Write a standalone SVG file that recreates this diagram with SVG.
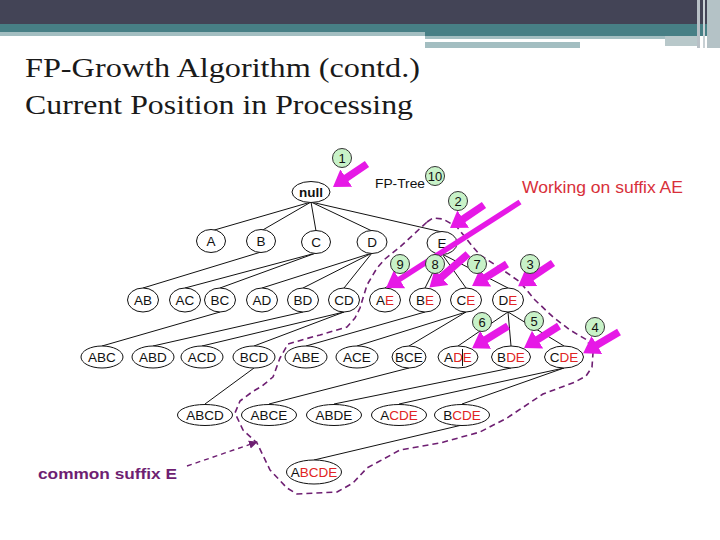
<svg xmlns="http://www.w3.org/2000/svg" width="720" height="540" viewBox="0 0 720 540">
<style>
.n ellipse{fill:#fff;stroke:#111;stroke-width:1}
.n text{font-family:"Liberation Sans",Arial,sans-serif;font-size:13.5px;fill:#111;text-anchor:middle}
.r{fill:#e02424}
.e line{stroke:#111;stroke-width:1}
.num circle{fill:#c8f2c8;stroke:#333;stroke-width:1}
.num text{font-family:"Liberation Sans",Arial,sans-serif;font-size:13px;fill:#111;text-anchor:middle}
.ma{stroke:#e619e6;stroke-width:7.5;fill:none;marker-end:url(#mh)}
</style>
<defs>
<marker id="mh" markerUnits="userSpaceOnUse" markerWidth="22" markerHeight="24" viewBox="0 -12 22 24" refX="2" refY="0" orient="auto">
<path d="M0,-10.5 L16,0 L0,10.5 Z" fill="#e619e6"/>
</marker>
<marker id="ph" markerUnits="userSpaceOnUse" markerWidth="10" markerHeight="10" viewBox="0 -5 10 10" refX="8" refY="0" orient="auto">
<path d="M0,-4 L9,0 L0,4 Z" fill="#6e1f72"/>
</marker>
</defs>
<rect width="720" height="540" fill="#fff"/>
<g id="header">
<rect x="0" y="0" width="720" height="25" fill="#434456"/>
<rect x="0" y="24" width="720" height="9" fill="#477f85"/>
<rect x="0" y="32" width="425" height="4" fill="#a3bec1"/>
<rect x="425" y="32" width="295" height="4" fill="#477f85"/>
<rect x="425" y="36" width="240" height="3" fill="#a3bec1"/>
<rect x="425" y="42" width="155" height="6" fill="#a3bec1"/>
<rect x="665" y="36" width="32" height="10" fill="#b8c8ca"/>
<rect x="697" y="0" width="3" height="48" fill="#b8c0c6"/>
<rect x="703" y="0" width="2" height="48" fill="#c8d0d4"/>
<rect x="707" y="0" width="13" height="48" fill="#b4c2c6"/>
</g>
<g id="title" font-family="'Liberation Serif','Times New Roman',serif" font-size="27" fill="#1a1a1a">
<text x="25" y="77" textLength="395" lengthAdjust="spacingAndGlyphs">FP-Growth Algorithm (contd.)</text>
<text x="25" y="114" textLength="388" lengthAdjust="spacingAndGlyphs">Current Position in Processing</text>
</g>
<g id="boundary">
<polyline points="427,222 433,218 443,219 457,227 473,247 480,255 500,268 520,282 535,300 553,317 570,330 587,340 593,353 592,367 586,376 575,382 543,394 507,418 480,432 440,443 400,450 378,462 367,468 353,483 337,492 297,494 287,488 270,470 257,443 243,430 235,413 240,401 252,392 262,386 273,377 280,358 288,344 305,339 320,335 347,327 355,318 360,308 363,298 367,285 377,268 385,259 400,247 427,222" fill="none" stroke="#6e1f72" stroke-width="1.6" stroke-dasharray="6,4" stroke-linejoin="round"/>
</g>
<g id="connectors" class="e">
<line x1="311" y1="202" x2="211" y2="231"/>
<line x1="311" y1="202" x2="261" y2="231"/>
<line x1="311" y1="202" x2="316" y2="231"/>
<line x1="311" y1="202" x2="372" y2="231"/>
<line x1="311" y1="202" x2="442" y2="232"/>
<line x1="261" y1="252" x2="143" y2="288"/>
<line x1="316" y1="253" x2="185" y2="288"/>
<line x1="316" y1="253" x2="220" y2="288"/>
<line x1="372" y1="253" x2="262" y2="288"/>
<line x1="372" y1="253" x2="303" y2="288"/>
<line x1="372" y1="253" x2="344" y2="288"/>
<line x1="442" y1="254" x2="385" y2="288"/>
<line x1="442" y1="254" x2="425" y2="288"/>
<line x1="442" y1="254" x2="466" y2="288"/>
<line x1="442" y1="254" x2="508" y2="288"/>
<line x1="220" y1="312" x2="102" y2="346"/>
<line x1="303" y1="312" x2="153" y2="346"/>
<line x1="344" y1="312" x2="202" y2="346"/>
<line x1="344" y1="312" x2="254" y2="346"/>
<line x1="425" y1="312" x2="306" y2="346"/>
<line x1="466" y1="312" x2="357" y2="346"/>
<line x1="466" y1="312" x2="409" y2="346"/>
<line x1="508" y1="312" x2="458" y2="346"/>
<line x1="508" y1="312" x2="511" y2="346"/>
<line x1="508" y1="312" x2="564" y2="346"/>
<line x1="254" y1="368" x2="205" y2="404"/>
<line x1="409" y1="368" x2="269" y2="404"/>
<line x1="511" y1="368" x2="334" y2="404"/>
<line x1="564" y1="368" x2="399" y2="404"/>
<line x1="564" y1="368" x2="462" y2="404"/>
<line x1="462" y1="425" x2="314" y2="460"/>
</g>
<g id="nodes" class="n">
<g id="n-null"><ellipse cx="311" cy="192" rx="19" ry="10.5"/><text x="311" y="196.5" font-weight="bold">null</text></g>
<g id="n-A"><ellipse cx="211" cy="241" rx="14.5" ry="11.5"/><text x="211" y="246">A</text></g>
<g id="n-B"><ellipse cx="261" cy="241" rx="14.5" ry="11.5"/><text x="261" y="246">B</text></g>
<g id="n-C"><ellipse cx="316" cy="242" rx="14.5" ry="11.5"/><text x="316" y="247">C</text></g>
<g id="n-D"><ellipse cx="372" cy="242" rx="15" ry="11.5"/><text x="372" y="247">D</text></g>
<g id="n-E"><ellipse cx="442" cy="243" rx="15" ry="11.5"/><text x="442" y="248">E</text></g>
<g id="n-AB"><ellipse cx="143" cy="300" rx="15.5" ry="12"/><text x="143" y="305">AB</text></g>
<g id="n-AC"><ellipse cx="185" cy="300" rx="15.5" ry="12"/><text x="185" y="305">AC</text></g>
<g id="n-BC"><ellipse cx="220" cy="300" rx="15.5" ry="12"/><text x="220" y="305">BC</text></g>
<g id="n-AD"><ellipse cx="262" cy="300" rx="15.5" ry="12"/><text x="262" y="305">AD</text></g>
<g id="n-BD"><ellipse cx="303" cy="300" rx="15.5" ry="12"/><text x="303" y="305">BD</text></g>
<g id="n-CD"><ellipse cx="344" cy="300" rx="15.5" ry="12"/><text x="344" y="305">CD</text></g>
<g id="n-AE"><ellipse cx="385" cy="300" rx="15.5" ry="12"/><text x="385" y="305">A<tspan class="r">E</tspan></text></g>
<g id="n-BE"><ellipse cx="425" cy="300" rx="15.5" ry="12"/><text x="425" y="305">B<tspan class="r">E</tspan></text></g>
<g id="n-CE"><ellipse cx="466" cy="300" rx="15.5" ry="12"/><text x="466" y="305">C<tspan class="r">E</tspan></text></g>
<g id="n-DE"><ellipse cx="508" cy="300" rx="15.5" ry="12"/><text x="508" y="305">D<tspan class="r">E</tspan></text></g>
<g id="n-ABC"><ellipse cx="102" cy="357" rx="21" ry="11"/><text x="102" y="362">ABC</text></g>
<g id="n-ABD"><ellipse cx="153" cy="357" rx="21" ry="11"/><text x="153" y="362">ABD</text></g>
<g id="n-ACD"><ellipse cx="202" cy="357" rx="21" ry="11"/><text x="202" y="362">ACD</text></g>
<g id="n-BCD"><ellipse cx="254" cy="357" rx="21" ry="11"/><text x="254" y="362">BCD</text></g>
<g id="n-ABE"><ellipse cx="306" cy="357" rx="21" ry="11"/><text x="306" y="362">ABE</text></g>
<g id="n-ACE"><ellipse cx="357" cy="357" rx="21" ry="11"/><text x="357" y="362">ACE</text></g>
<g id="n-BCE"><ellipse cx="409" cy="357" rx="17" ry="11"/><text x="409" y="362">BCE</text></g>
<g id="n-ADE"><ellipse cx="458" cy="357" rx="20" ry="11"/><text x="458" y="362">A<tspan class="r">DE</tspan></text><line x1="462.5" y1="349" x2="462.5" y2="366" stroke="#111" stroke-width="1"/></g>
<g id="n-BDE"><ellipse cx="511" cy="357" rx="19.5" ry="11"/><text x="511" y="362">B<tspan class="r">DE</tspan></text></g>
<g id="n-CDE"><ellipse cx="564" cy="357" rx="19.5" ry="11"/><text x="564" y="362">C<tspan class="r">DE</tspan></text></g>
<g id="n-ABCD"><ellipse cx="205" cy="415" rx="27.5" ry="10.5"/><text x="205" y="420">ABCD</text></g>
<g id="n-ABCE"><ellipse cx="269" cy="415" rx="27.5" ry="10.5"/><text x="269" y="420">ABCE</text></g>
<g id="n-ABDE"><ellipse cx="334" cy="415" rx="27.5" ry="10.5"/><text x="334" y="420">ABDE</text></g>
<g id="n-ACDE"><ellipse cx="399" cy="415" rx="27.5" ry="10.5"/><text x="399" y="420">A<tspan class="r">CDE</tspan></text></g>
<g id="n-BCDE"><ellipse cx="462" cy="415" rx="27.5" ry="10.5"/><text x="462" y="420">B<tspan class="r">CDE</tspan></text></g>
<g id="n-ABCDE"><ellipse cx="314" cy="472" rx="27.5" ry="12"/><text x="314" y="477">A<tspan class="r">BCDE</tspan></text></g>
</g>
<g id="labels">
<text x="375" y="188" font-family="'Liberation Sans',Arial,sans-serif" font-size="13" fill="#111" textLength="50" lengthAdjust="spacingAndGlyphs">FP-Tree</text>
<text x="522" y="193" font-family="'Liberation Sans',Arial,sans-serif" font-size="16" fill="#d8303a" textLength="161" lengthAdjust="spacingAndGlyphs">Working on suffix AE</text>
<text x="38" y="479" font-family="'Liberation Sans',Arial,sans-serif" font-size="15" font-weight="bold" fill="#6e1f72" textLength="139" lengthAdjust="spacingAndGlyphs">common suffix E</text>
<line x1="187" y1="466" x2="257" y2="442" stroke="#6e1f72" stroke-width="1.4" stroke-dasharray="5,4" marker-end="url(#ph)"/>
</g>
<g id="arrows">
<line class="ma" x1="367" y1="164" x2="344.6" y2="179.2"/>
<line class="ma" x1="484" y1="205" x2="461.6" y2="220.2"/>
<line class="ma" style="stroke-width:5.5" x1="520" y1="202" x2="397.8" y2="280.4"/>
<line class="ma" x1="468" y1="254" x2="440" y2="278.4"/>
<line class="ma" x1="507" y1="264" x2="483.9" y2="278.6"/>
<line class="ma" x1="553" y1="263" x2="529.8" y2="278.4"/>
<line class="ma" x1="508" y1="326" x2="484" y2="340.8"/>
<line class="ma" x1="559" y1="326" x2="535.9" y2="340.6"/>
<line class="ma" x1="619" y1="332" x2="595.2" y2="346.1"/>
</g>
<g id="steps" class="num">
<g id="s1"><circle cx="342" cy="158" r="9.5"/><text x="342" y="162.5">1</text></g>
<g id="s10"><circle cx="435" cy="176" r="9.5"/><text x="435" y="180.5">10</text></g>
<g id="s2"><circle cx="458" cy="201" r="9.5"/><text x="458" y="205.5">2</text></g>
<g id="s9"><circle cx="400" cy="264" r="9.5"/><text x="400" y="268.5">9</text></g>
<g id="s8"><circle cx="435" cy="264" r="9.5"/><text x="435" y="268.5">8</text></g>
<g id="s7"><circle cx="477" cy="264" r="9.5"/><text x="477" y="268.5">7</text></g>
<g id="s3"><circle cx="530" cy="264" r="9.5"/><text x="530" y="268.5">3</text></g>
<g id="s6"><circle cx="482" cy="322" r="9.5"/><text x="482" y="326.5">6</text></g>
<g id="s5"><circle cx="534" cy="321" r="9.5"/><text x="534" y="325.5">5</text></g>
<g id="s4"><circle cx="595" cy="327" r="9.5"/><text x="595" y="331.5">4</text></g>
</g>
</svg>
